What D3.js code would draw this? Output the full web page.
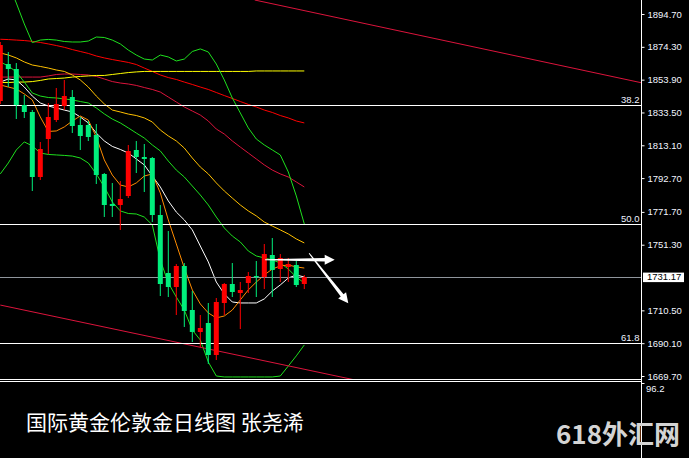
<!DOCTYPE html>
<html><head><meta charset="utf-8">
<script src="https://cdn.jsdelivr.net/npm/d3@7/dist/d3.min.js"></script>
<style>html,body{margin:0;padding:0;background:#000;overflow:hidden}</style>
</head><body><svg id="c" width="689" height="458"></svg>
<script>
// ---- data ----
const opens  = [1840.63,1863.62,1860.51,1838.14,1833.79,1793.39,1817.01,1828.82,1837.52,1843.11,1825.71,1825.71,1819.49,1795.25,1776.61,1775.98,1781.58,1810.17,1805.82,1805.20,1769.77,1733.72,1725.02,1738.07,1710.72,1697.05,1702.64,1682.75,1715.07,1726.88,1721.29,1727.50,1731.85,1731.23,1744.91,1736.21,1737.45,1738.69,1726.88];
const highs  = [1877.30,1871.08,1864.24,1844.35,1835.03,1815.14,1839.38,1848.71,1853.68,1847.46,1830.68,1828.19,1826.33,1795.87,1789.66,1790.90,1813.28,1815.76,1813.90,1805.82,1775.98,1759.82,1739.31,1739.93,1722.53,1707.61,1715.07,1718.18,1727.50,1739.93,1728.13,1734.34,1741.18,1751.74,1755.47,1745.53,1743.04,1741.18,1732.48];
const lows   = [1838.76,1849.33,1829.44,1830.06,1784.69,1791.52,1807.68,1827.57,1835.03,1820.74,1810.17,1815.76,1789.04,1768.53,1768.53,1760.45,1780.34,1795.87,1784.07,1765.42,1719.42,1718.80,1707.61,1700.16,1690.83,1687.73,1677.16,1679.64,1707.61,1718.80,1698.91,1721.29,1718.80,1723.77,1718.80,1728.13,1728.13,1725.02,1723.77];
const closes = [1875.43,1860.51,1838.14,1833.79,1793.39,1810.79,1830.68,1838.76,1843.73,1825.09,1818.87,1818.25,1794.63,1775.98,1775.36,1779.71,1809.55,1805.82,1804.58,1769.77,1726.88,1725.02,1738.07,1710.10,1697.05,1699.53,1682.75,1715.69,1726.88,1721.91,1723.15,1731.85,1731.23,1745.53,1735.58,1743.04,1739.31,1726.26,1731.17];

const upperBand = [null,1914.0,1901.5,1888.5,1876.9,1878.5,1878.9,1878.5,1877.6,1877.3,1877.3,1877.9,1880.4,1880.1,1878.5,1876.1,1872.3,1869.2,1866.7,1866.1,1869.2,1868.0,1865.5,1866.7,1871.4,1873.0,1871.1,1863.6,1853.7,1842.5,1833.2,1823.9,1817.0,1813.3,1810.2,1807.1,1796.5,1781.6,1764.2];
const midBand   = [1864.9,1862.4,1858.7,1852.4,1845.6,1843.7,1842.8,1842.5,1841.9,1841.3,1840.3,1839.4,1836.3,1832.6,1829.4,1827.0,1823.9,1820.7,1817.6,1813.3,1809.6,1803.3,1797.7,1793.4,1787.8,1782.2,1776.0,1768.5,1761.7,1756.7,1753.0,1747.4,1744.3,1743.1,1741.8,1740.0,1736.2,1731.2,1727.5];
const lowerBand = [1795.3,1802.1,1810.2,1815.2,1812.7,1808.3,1807.4,1807.1,1806.8,1806.4,1805.2,1802.1,1795.3,1787.2,1777.9,1772.3,1770.7,1770.4,1768.5,1763.6,1741.8,1727.5,1718.8,1710.7,1698.3,1692.1,1678.4,1669.7,1669.1,1669.1,1669.1,1669.1,1669.1,1669.1,1669.1,1669.7,1675.9,1682.2,1689.0];
const redMA     = [1879.0,1878.8,1878.5,1878.2,1877.7,1877.0,1876.1,1875.1,1874.0,1872.6,1871.4,1870.2,1868.6,1867.4,1866.4,1865.5,1864.6,1863.3,1861.1,1859.0,1856.8,1855.2,1854.0,1852.4,1850.9,1849.3,1847.8,1845.9,1844.0,1842.2,1840.3,1838.5,1836.9,1835.0,1833.5,1831.6,1830.1,1828.2,1827.0];
const yellowMA  = [1852.1,1852.1,1852.4,1852.4,1852.7,1853.4,1854.3,1854.6,1854.9,1855.5,1855.9,1856.2,1856.5,1856.5,1857.1,1857.7,1858.3,1858.7,1859.0,1859.0,1859.0,1859.0,1859.0,1859.0,1859.0,1859.0,1859.0,1859.0,1859.0,1859.0,1859.0,1859.0,1859.3,1859.3,1859.3,1859.3,1859.3,1859.3,1859.3];
const crimsonMA = [1855.5,1855.5,1855.5,1855.5,1855.5,1855.5,1856.2,1857.1,1857.4,1857.4,1857.1,1856.8,1855.9,1854.3,1852.7,1851.8,1851.2,1850.3,1849.0,1847.8,1846.2,1843.1,1840.0,1836.9,1834.4,1831.9,1828.2,1823.2,1820.1,1815.8,1812.0,1808.3,1804.6,1800.9,1797.7,1795.3,1793.4,1790.3,1787.2];
const goldMA    = [1870.5,1869.2,1867.4,1864.9,1863.0,1862.1,1861.1,1859.9,1859.0,1856.8,1853.7,1849.3,1843.7,1838.8,1835.0,1833.8,1832.5,1831.6,1830.1,1827.6,1822.6,1818.9,1815.8,1811.4,1805.2,1799.6,1795.3,1789.7,1784.7,1780.3,1776.0,1772.3,1769.2,1765.4,1762.9,1760.5,1758.0,1754.9,1752.4];
const whiteMA   = [1852.4,1854.3,1853.7,1849.3,1843.7,1839.4,1837.5,1836.3,1835.0,1833.8,1830.7,1827.0,1820.7,1815.8,1812.4,1810.5,1808.3,1804.6,1800.9,1794.0,1787.2,1778.5,1771.6,1766.7,1760.5,1750.5,1740.6,1728.1,1720.7,1715.7,1715.1,1715.1,1715.1,1717.6,1722.5,1726.3,1730.6,1732.5,1731.2];
const orangeMA  = [1850.6,1849.3,1848.1,1845.0,1841.3,1830.7,1821.7,1822.0,1824.5,1828.2,1831.3,1828.8,1818.3,1804.0,1794.6,1788.4,1787.2,1789.7,1794.0,1795.3,1783.5,1766.7,1751.8,1736.8,1723.2,1714.5,1708.9,1705.8,1707.0,1710.7,1717.0,1723.2,1728.1,1732.5,1736.2,1738.1,1738.7,1737.5,1736.8];

const tickValues = [1894.70,1874.30,1853.90,1833.50,1813.10,1792.70,1771.70,1751.30,1710.50,1690.10,1669.70];
const fibLevels  = [1838.1,1764.2,1690.0];
const fibLabels  = ["38.2","50.0","61.8"];
const upperTrend = [[31.8,1903.4],[80.1,1852.0]];
const lowerTrend = [[0,1713.8],[46,1665.5]];
const arrows     = [[[33.1,1742.0],[41.8,1742.0]],[[38.6,1746.0],[43.5,1714.9]]];
const subLabel   = "96.2";
const title      = "国际黄金伦敦金日线图 张尧浠";
const watermark  = "618外汇网";

// ---- scales ----
const axisX = 641.5, chartBottom = 379;
const x = d3.scaleLinear().domain([0,38]).range([0.3,304.3]);
const y = d3.scaleLinear().domain([1669.70,1894.70]).range([376,14]);

const svg = d3.select("#c");
svg.append("rect").attr("width",689).attr("height",458).attr("fill","#000");
svg.append("defs").append("clipPath").attr("id","clip")
  .append("rect").attr("x",0).attr("y",0).attr("width",axisX).attr("height",chartBottom);

const plot = svg.append("g").attr("clip-path","url(#clip)");

// indicator lines
const lineGen = d3.line().defined(d=>d!=null).x((d,i)=>x(i)).y(d=>y(d));
const series = [
  [redMA,"#ff0000"],[crimsonMA,"#dc143c"],[yellowMA,"#ffff00"],[goldMA,"#ffc000"],
  [upperBand,"#1ee01e"],[midBand,"#1ee01e"],[lowerBand,"#1ee01e"],
  [whiteMA,"#ffffff"],[orangeMA,"#ff8c00"]
];
series.forEach(([vals,col])=>{
  plot.append("path").datum(vals).attr("d",lineGen)
    .attr("fill","none").attr("stroke",col).attr("stroke-width",1);
});

// trend lines
const tl = d3.line().x(d=>x(d[0])).y(d=>y(d[1]));
[upperTrend,lowerTrend].forEach(t=>{
  plot.append("path").datum(t).attr("d",tl).attr("fill","none").attr("stroke","#dc143c").attr("stroke-width",1);
});

// fib lines
fibLevels.forEach((lv,i)=>{
  const yy = Math.round(y(lv))+0.5;
  plot.append("line").attr("x1",0).attr("x2",axisX).attr("y1",yy).attr("y2",yy)
    .attr("stroke","#fff").attr("stroke-width",1);
  svg.append("text").attr("x",639.5).attr("y",yy-2.5).attr("text-anchor","end")
    .attr("fill","#eef2ff").attr("font-family","Liberation Sans, Arial, sans-serif").attr("font-size",9.5)
    .text(fibLabels[i]);
});

// bid line
const lastClose = closes[closes.length-1];
const bidY = Math.round(y(lastClose))+0.5;
plot.append("line").attr("x1",0).attr("x2",axisX).attr("y1",bidY).attr("y2",bidY)
  .attr("stroke","#8f959c").attr("stroke-width",1);

// candles
const idx = d3.range(opens.length);
const cg = plot.append("g");
idx.forEach(i=>{
  const up = closes[i] >= opens[i];
  const col = up ? "#ff0000" : "#00ee7c";
  const cx = x(i);
  cg.append("rect").attr("x",cx-0.5).attr("width",1)
    .attr("y",y(highs[i])).attr("height",y(lows[i])-y(highs[i])).attr("fill",col);
  const top = y(Math.max(opens[i],closes[i])), bot = y(Math.min(opens[i],closes[i]));
  cg.append("rect").attr("x",cx-2.5).attr("width",5)
    .attr("y",top).attr("height",Math.max(1.2,bot-top)).attr("fill",col);
});

// arrows
arrows.forEach(([a,b])=>{
  const x1=x(a[0]), y1=y(a[1]), x2=x(b[0]), y2=y(b[1]);
  const dx=x2-x1, dy=y2-y1, L=Math.hypot(dx,dy), ux=dx/L, uy=dy/L, px=-uy, py=ux;
  const headL=10, headW=5, w0=0.5, w1=1.8;
  const bx=x2-ux*headL, by=y2-uy*headL;
  const pts=[
    [x1+px*w0,y1+py*w0],[bx+px*w1,by+py*w1],[bx+px*headW,by+py*headW],[x2,y2],
    [bx-px*headW,by-py*headW],[bx-px*w1,by-py*w1],[x1-px*w0,y1-py*w0]
  ];
  svg.append("polygon").attr("points",pts.map(p=>p.join(",")).join(" ")).attr("fill","#fff");
});

// separators
[379.5,381.5].forEach(yy=>{
  svg.append("line").attr("x1",0).attr("x2",axisX).attr("y1",yy).attr("y2",yy).attr("stroke","#fff").attr("stroke-width",1);
});

// axis
svg.append("line").attr("x1",axisX).attr("x2",axisX).attr("y1",0).attr("y2",458).attr("stroke","#fff").attr("stroke-width",1);
const axis = d3.axisRight(y).tickValues(tickValues).tickFormat(d3.format(".2f")).tickSize(3).tickPadding(3);
const ag = svg.append("g").attr("transform",`translate(${axisX},0)`).call(axis);
ag.select(".domain").remove();
ag.selectAll(".tick line").attr("stroke","#fff");
ag.selectAll(".tick text").attr("fill","#f2f5ff").attr("font-family","Liberation Sans, Arial, sans-serif").attr("font-size",9.5);

// current price label
const by0 = y(lastClose);
svg.append("rect").attr("x",643).attr("y",by0-4.5).attr("width",41).attr("height",9.5).attr("fill","#fff");
svg.append("text").attr("x",647).attr("y",by0+3.3).attr("fill","#000")
  .attr("font-family","Liberation Sans, Arial, sans-serif").attr("font-size",9.5).text(d3.format(".2f")(lastClose));

// sub-window label
svg.append("line").attr("x1",axisX).attr("x2",axisX+3).attr("y1",383.5).attr("y2",383.5).attr("stroke","#fff");
svg.append("text").attr("x",646).attr("y",391.5).attr("fill","#f2f5ff")
  .attr("font-family","Liberation Sans, Arial, sans-serif").attr("font-size",9.5).text(subLabel);

// title and watermark
svg.append("text").attr("x",26).attr("y",429.5).attr("fill","#fff")
  .attr("font-family","Noto Sans CJK SC, sans-serif").attr("font-size",21).text(title);
svg.append("text").attr("x",556).attr("y",444).attr("fill","#d4d4d4").attr("font-weight","bold")
  .attr("font-family","Noto Sans CJK SC, sans-serif").attr("font-size",26).text(watermark);
</script></body></html>
